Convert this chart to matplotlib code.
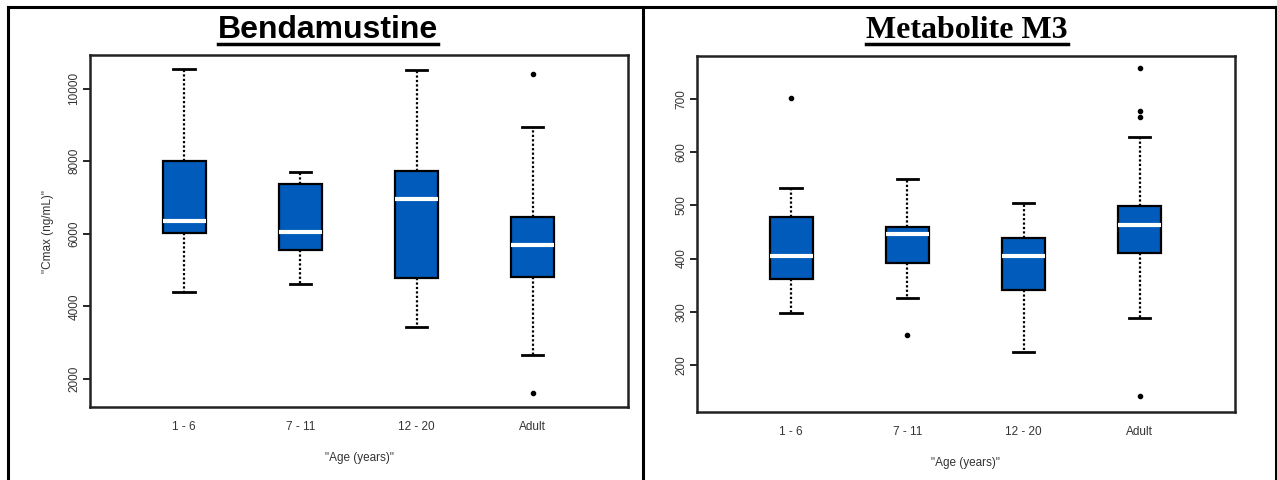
import matplotlib.pyplot as plt
from matplotlib.lines import Line2D

groups = ['1 - 6', '7 - 11', '12 - 20', 'Adult']

# Bendamustine Cmax (ng/mL)
benda_whislo = [4380, 4620, 3420, 2650]
benda_q1 = [6020, 5560, 4790, 4820]
benda_med = [6360, 6050, 6970, 5700]
benda_q3 = [8000, 7360, 7720, 6470]
benda_whishi = [10550, 7690, 10520, 8940]
benda_fliers = [[], [], [], [10400, 1600]]

# Metabolite M3 Cmax
m3_whislo = [297, 326, 225, 288]
m3_q1 = [362, 391, 341, 410]
m3_med = [405, 446, 405, 462]
m3_q3 = [477, 459, 439, 499]
m3_whishi = [532, 550, 505, 628]
m3_fliers = [[702], [257], [], [757, 677, 665, 142]]

BLUE = '#005bbb'


def make_stats(lo, q1, med, q3, hi, fl):
    return [dict(whislo=lo[i], q1=q1[i], med=med[i], q3=q3[i], whishi=hi[i],
                 fliers=fl[i], label=groups[i]) for i in range(len(groups))]


def draw(ax, stats, ylim, yticks):
    ax.bxp(stats, positions=range(1, len(groups) + 1), widths=0.37,
           patch_artist=True,
           boxprops=dict(facecolor=BLUE, edgecolor='black', linewidth=1.6),
           medianprops=dict(color='white', linewidth=3),
           whiskerprops=dict(color='black', linestyle=(0, (1, 1)), linewidth=1.6),
           capprops=dict(color='black', linewidth=2),
           flierprops=dict(marker='o', markersize=3, markerfacecolor='black',
                           markeredgecolor='black'))
    ax.set_xlim(0.19, 4.82)
    ax.set_ylim(*ylim)
    ax.set_yticks(yticks)
    ax.set_yticklabels([str(t) for t in yticks], rotation=90, va='center')
    ax.tick_params(axis='y', length=5, width=1.2, labelsize=8.5, labelcolor='#333333', pad=2)
    ax.tick_params(axis='x', length=0, labelsize=8.5, labelcolor='#333333', pad=10)
    for s in ax.spines.values():
        s.set_linewidth(1.8)
        s.set_color('#222222')


plt.rcParams['font.family'] = ['Liberation Sans', 'DejaVu Sans']
fig = plt.figure(figsize=(12.77, 4.80), dpi=100)

ax1 = fig.add_axes([0.0705, 0.152, 0.4213, 0.7334])
draw(ax1, make_stats(benda_whislo, benda_q1, benda_med, benda_q3, benda_whishi, benda_fliers),
     (1220, 10930), [2000, 4000, 6000, 8000, 10000])
ax1.set_ylabel('"Cmax (ng/mL)"', fontsize=8.5, color='#333333', labelpad=10)
ax1.set_xlabel('"Age (years)"', fontsize=8.5, color='#333333', labelpad=14)

ax2 = fig.add_axes([0.5458, 0.1417, 0.4213, 0.7416])
draw(ax2, make_stats(m3_whislo, m3_q1, m3_med, m3_q3, m3_whishi, m3_fliers),
     (112, 780), [200, 300, 400, 500, 600, 700])
ax2.set_xlabel('"Age (years)"', fontsize=8.5, color='#333333', labelpad=14)

# titles
fig.text(328 / 1277, 1 - 38 / 480, 'Bendamustine', ha='center', va='baseline',
         fontsize=23, fontweight='bold', family='Liberation Sans')
fig.add_artist(Line2D([218 / 1277, 438 / 1277], [1 - 43.5 / 480] * 2, color='black', linewidth=2.5))
fig.text(967 / 1277, 1 - 38 / 480, 'Metabolite M3', ha='center', va='baseline',
         fontsize=23, fontweight='bold', family='Liberation Serif')
fig.add_artist(Line2D([866 / 1277, 1068 / 1277], [1 - 43.5 / 480] * 2, color='black', linewidth=2.5))

# table borders
for xs, ys in [([8 / 1277, 8 / 1277], [0, 1 - 7 / 480]),
               ([643 / 1277, 643 / 1277], [0, 1 - 7 / 480]),
               ([1275.5 / 1277, 1275.5 / 1277], [0, 1 - 7 / 480]),
               ([8 / 1277, 1275.5 / 1277], [1 - 7 / 480, 1 - 7 / 480])]:
    fig.add_artist(Line2D(xs, ys, color='black', linewidth=2.2))

fig.savefig('out.png', dpi=100)
